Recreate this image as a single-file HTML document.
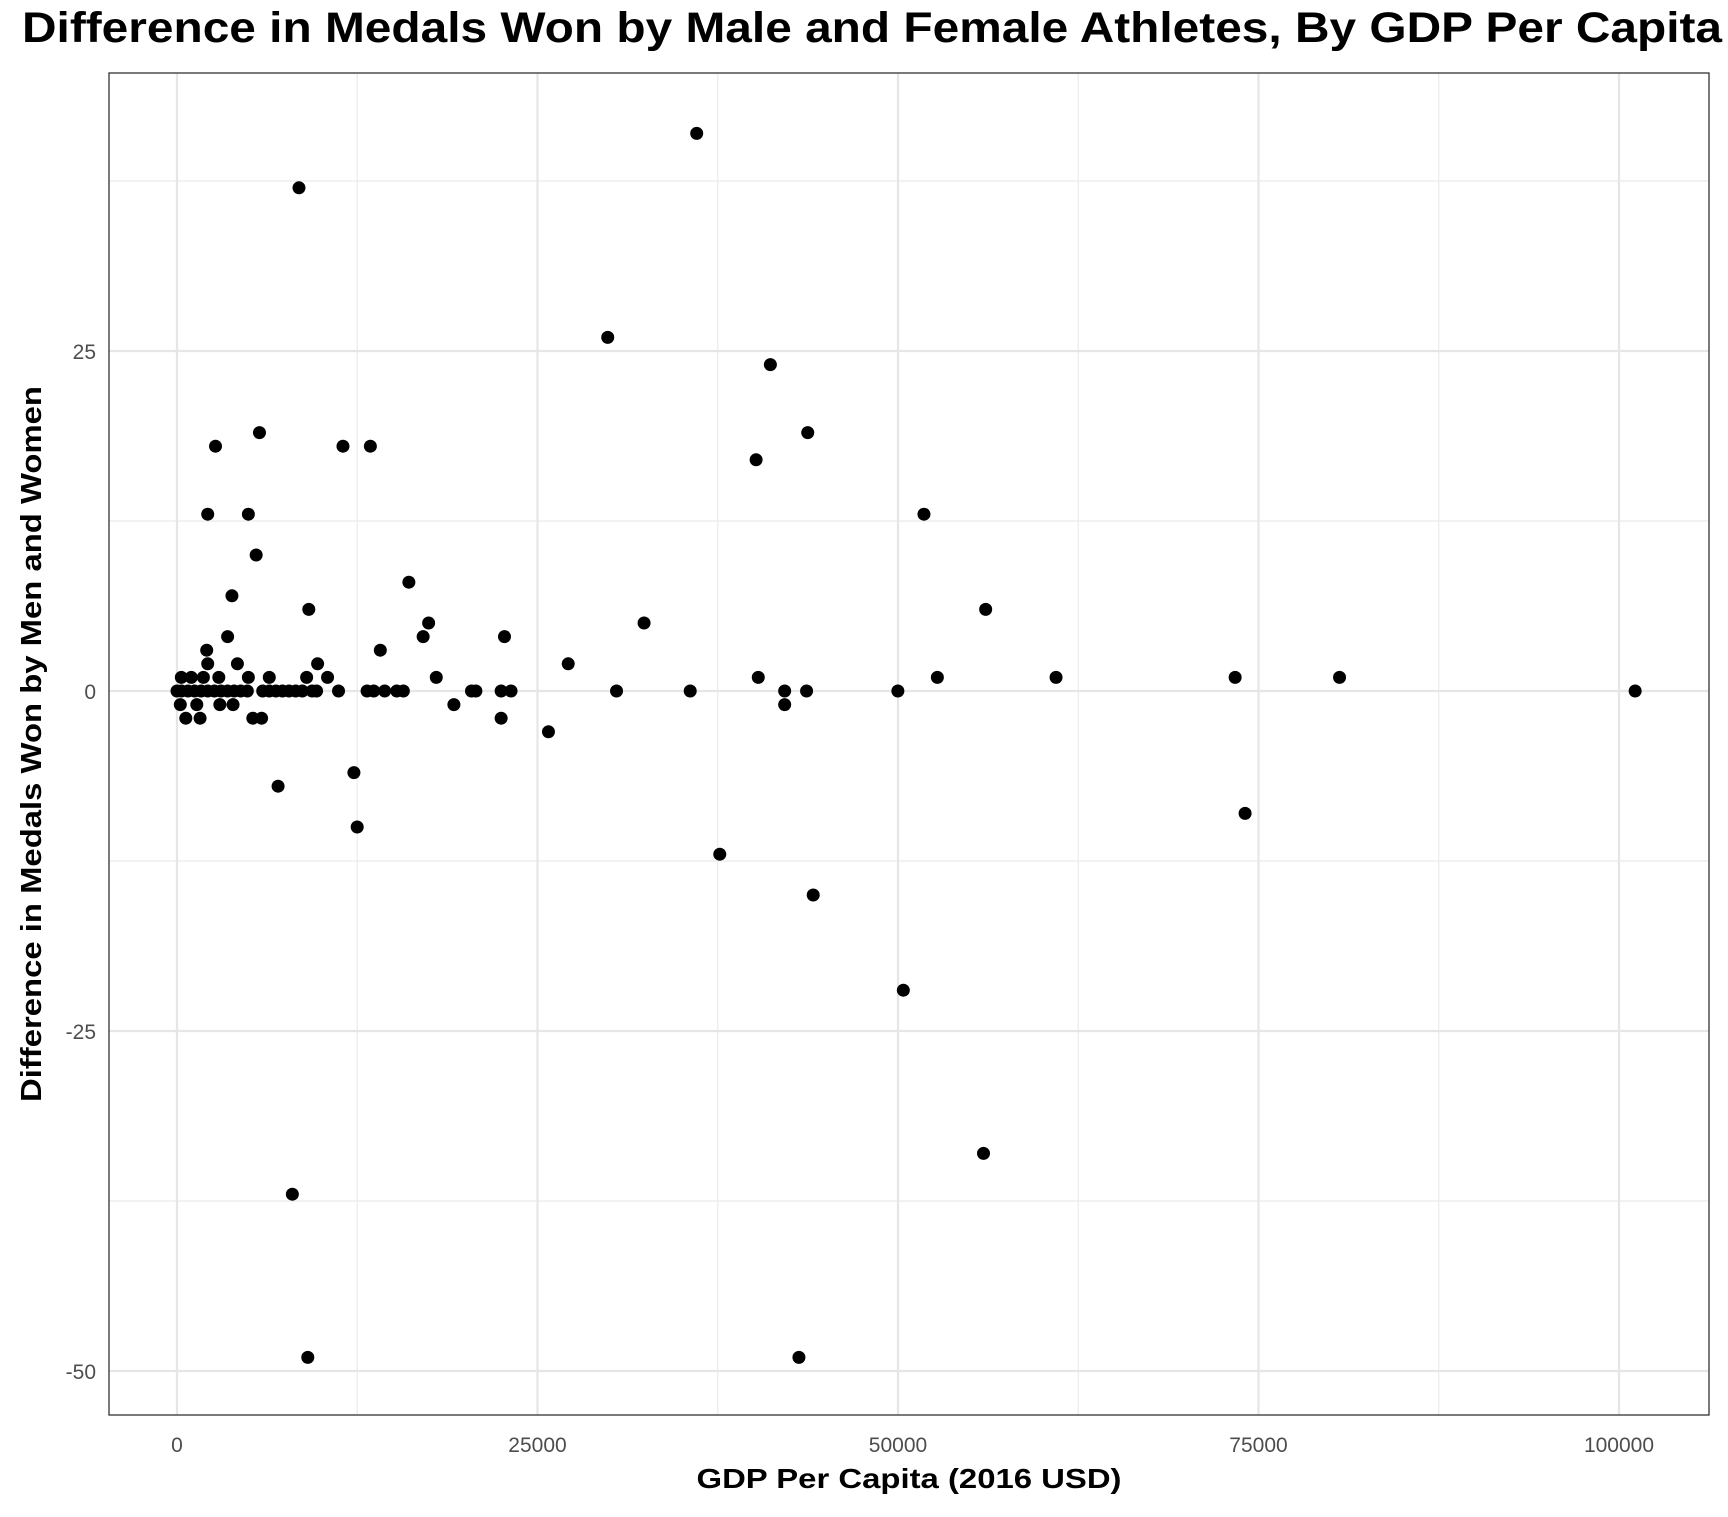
<!DOCTYPE html>
<html><head><meta charset="utf-8"><style>
body{margin:0;background:#fff;}
svg text{font-family:"Liberation Sans",Arial,sans-serif;}
</style></head><body>
<svg id="chart" width="1728" height="1512" viewBox="0 0 1728 1512" xmlns="http://www.w3.org/2000/svg">
<rect width="1728" height="1512" fill="#fff"/>
<text x="22" y="42" font-size="43" font-weight="bold" textLength="1700" lengthAdjust="spacingAndGlyphs">Difference in Medals Won by Male and Female Athletes, By GDP Per Capita</text>
<g id="grid"></g>
<g id="points"></g>
<rect x="109" y="73" width="1600" height="1342" fill="none" stroke="#333" stroke-width="1.3"/>
<g id="ticks"></g>
<text x="909" y="1488" font-size="28" font-weight="bold" text-anchor="middle" textLength="425" lengthAdjust="spacingAndGlyphs">GDP Per Capita (2016 USD)</text>
<text transform="translate(41,744) rotate(-90)" font-size="29" font-weight="bold" text-anchor="middle" textLength="716" lengthAdjust="spacingAndGlyphs">Difference in Medals Won by Men and Women</text>
</svg>
<script>
const gdp = [8460,36040,29870,41150,43740,40160,51800,56080,32390,27130,40310,52730,60960,73380,80620,101120,49990,43660,42140,42140,35590,30480,25760,37640,44120,74070,50370,55930,43130,9070,8000,
2670,5720,11510,13410,2130,4950,5490,3810,9140,16080,17450,17070,22710,3510,2060,14100,2130,4190,9750,10440,17980,8990,6400,4950,2900,1830,990,300,
0,305,762,1219,1676,2134,2591,3048,3505,3962,4420,4877,5944,6401,6858,7315,7772,8230,8687,9373,9678,11201,13182,13640,14402,15240,15697,20422,20726,22479,23164,
229,1372,2972,3886,19202,610,1600,5258,5867,22479,12268,7010,12497];
const diff = [37,41,26,24,19,17,13,6,5,2,1,1,1,1,1,0,0,0,0,-1,0,0,-3,-12,-15,-9,-22,-34,-49,-49,-37,
18,19,18,18,13,13,10,7,6,8,5,4,4,4,3,3,2,2,2,1,1,1,1,1,1,1,1,1,
0,0,0,0,0,0,0,0,0,0,0,0,0,0,0,0,0,0,0,0,0,0,0,0,0,0,0,0,0,0,0,
-1,-1,-1,-1,-1,-2,-2,-2,-2,-2,-6,-7,-10];
const xTicks = [0,25000,50000,75000,100000];
const yTicks = [-50,-25,0,25];
const xMinor = [12500,37500,62500,87500];
const yMinor = [-37.5,-12.5,12.5,37.5];

const NS='http://www.w3.org/2000/svg';
const X = v => 177 + v*0.01442;
const Y = v => 691 - v*13.6;
function mk(tag, attrs, parent){const e=document.createElementNS(NS,tag);for(const k in attrs)e.setAttribute(k,attrs[k]);parent.appendChild(e);return e;}
const grid=document.getElementById('grid'), pts=document.getElementById('points'), ticks=document.getElementById('ticks');
xMinor.forEach(v=>{const l=mk('line',{x1:X(v),x2:X(v),y1:73,y2:1415,stroke:'#ebebeb','stroke-width':1.2},grid);

});
yMinor.forEach(v=>{const l=mk('line',{x1:109,x2:1709,y1:Y(v),y2:Y(v),stroke:'#ebebeb','stroke-width':1.2},grid);

});
xTicks.forEach(v=>{const l=mk('line',{x1:X(v),x2:X(v),y1:73,y2:1415,stroke:'#e6e6e6','stroke-width':2.2},grid);


const t=mk('text',{x:X(v),y:1452,'font-size':21,fill:'#4d4d4d','text-anchor':'middle'},ticks);t.textContent=v;

});
yTicks.forEach(v=>{const l=mk('line',{x1:109,x2:1709,y1:Y(v),y2:Y(v),stroke:'#e6e6e6','stroke-width':2.2},grid);


const t=mk('text',{x:96,y:Y(v)+8,'font-size':21,fill:'#4d4d4d','text-anchor':'end'},ticks);t.textContent=v;

});
gdp.forEach((g,i)=>{const c=mk('circle',{cx:X(g),cy:Y(diff[i]),r:6.5,fill:'#000'},pts);

});
</script>
</body></html>
